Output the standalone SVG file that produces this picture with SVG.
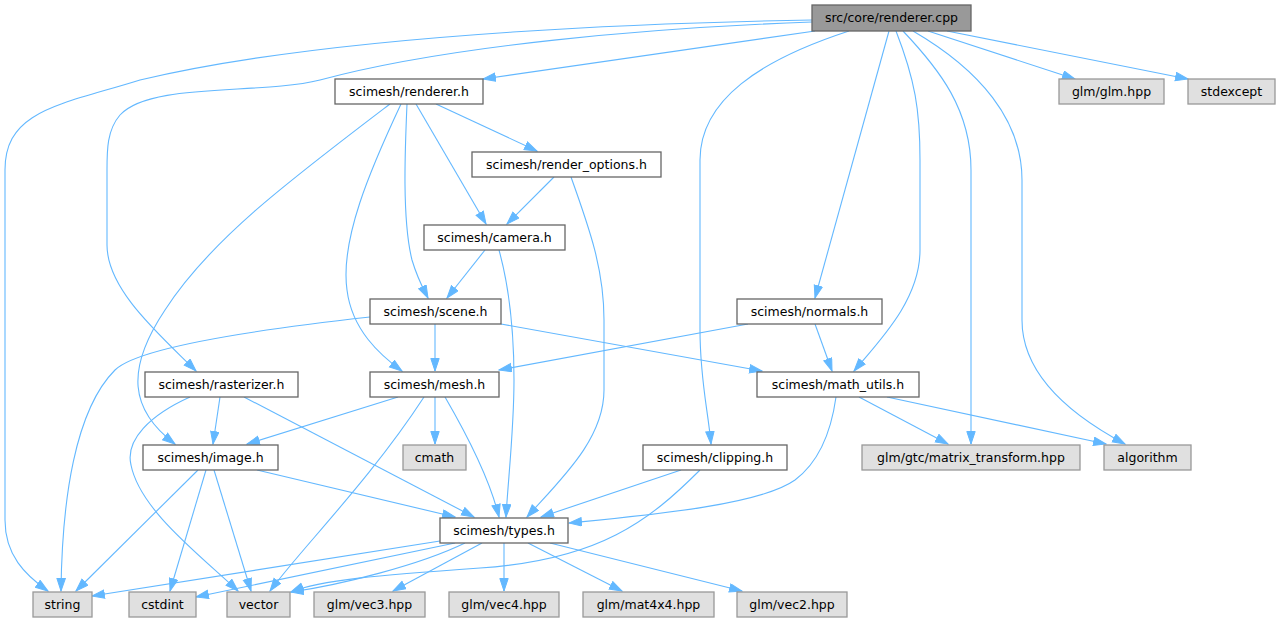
<svg xmlns="http://www.w3.org/2000/svg" width="1279" height="623" viewBox="0 0 1279 623">
<style>
.n rect{fill:#ffffff;stroke:#666666;stroke-width:1.3}
.x rect{fill:#e0e0e0;stroke:#999999;stroke-width:1.3}
.r rect{fill:#999999;stroke:#666666;stroke-width:1.3}
text{font-family:"DejaVu Sans","Liberation Sans",sans-serif;font-size:12.5px;fill:#000;text-anchor:middle}
#edges path{fill:none;stroke:#63b8ff;stroke-width:1.1;marker-end:url(#ah)}
</style>
<defs>
<marker id="ah" markerUnits="userSpaceOnUse" markerWidth="14" markerHeight="10" refX="13" refY="4.7" orient="auto">
<path d="M0.5,0.5 L13,4.7 L0.5,8.9 Z" fill="#63b8ff" stroke="#63b8ff" stroke-width="1"/>
</marker>
</defs>
<rect width="1279" height="623" fill="#ffffff"/>
<g id="edges">
<path d="M812,20 C 700,22 350,30 140,80 C 60,105 5,110 5,170 L5,520 C5,555 25,575 48,591"/>
<path d="M812,22 C 650,28 450,45 320,80 C 260,95 150,82 120,115 C 107,130 107,150 107,170 L107,245 C107,290 160,335 196,371"/>
<path d="M815,31 L483,79"/>
<path d="M849,31 C 760,60 700,100 700,160 L700,330 C 700,380 708,410 711,444"/>
<path d="M889,31 L815,298"/>
<path d="M896,31 C 915,80 920,110 920,160 L920,250 C 920,300 880,340 854,371"/>
<path d="M903,31 C 940,70 971,110 971,170 L971,444"/>
<path d="M913,31 C 980,70 1022,120 1022,180 L1022,320 C 1022,380 1080,420 1125,444"/>
<path d="M928,31 L1075,79"/>
<path d="M947,31 L1188,79"/>
<path d="M436,104 L537,151"/>
<path d="M416,104 L486,224"/>
<path d="M407,104 C 405,150 402,220 412,260 C 418,280 424,290 428,298"/>
<path d="M401,104 C 370,170 340,240 347,290 C 352,330 380,355 402,371"/>
<path d="M390,104 C 290,180 210,240 165,310 C 125,370 130,410 175,444"/>
<path d="M554,177 L507,224"/>
<path d="M571,177 C 590,230 604,270 604,320 L604,390 C 604,440 560,480 527,517"/>
<path d="M485,250 L447,298"/>
<path d="M499,250 C 510,290 514,330 514,380 C 514,430 508,480 506,517"/>
<path d="M435,324 L435,371"/>
<path d="M370,317 C 280,327 140,345 115,370 C 75,410 62,500 61,591"/>
<path d="M501,324 L762,371"/>
<path d="M748,324 L499,370"/>
<path d="M815,324 L832,371"/>
<path d="M220,397 L213,444"/>
<path d="M244,397 L474,517"/>
<path d="M190,397 C 150,415 125,440 131,465 C 140,510 200,555 238,591"/>
<path d="M398,397 L247,444"/>
<path d="M435,397 L435,444"/>
<path d="M424,397 C 370,480 300,550 270,591"/>
<path d="M445,397 C 470,440 490,480 499,517"/>
<path d="M198,470 L76,591"/>
<path d="M206,470 L170,591"/>
<path d="M214,470 L251,591"/>
<path d="M257,470 L455,517"/>
<path d="M440,541 L92,596"/>
<path d="M455,543 L196,597"/>
<path d="M465,543 C 420,565 340,585 291,592"/>
<path d="M700,470 C 650,520 600,560 480,568 C 380,575 320,580 291,592"/>
<path d="M482,543 L393,591"/>
<path d="M504,543 L504,591"/>
<path d="M528,543 L622,591"/>
<path d="M550,543 L742,591"/>
<path d="M681,470 L541,517"/>
<path d="M836,397 C 830,440 815,465 795,480 C 760,505 650,515 569,523"/>
<path d="M859,397 L948,444"/>
<path d="M887,397 L1106,444"/>
</g>
<g id="n_root" class="r"><rect x="812" y="5" width="159" height="26"/><text x="891.5" y="22">src/core/renderer.cpp</text></g>
<g id="n_renderer" class="n"><rect x="335" y="79" width="148" height="25"/><text x="409" y="96">scimesh/renderer.h</text></g>
<g id="n_glm" class="x"><rect x="1059" y="79" width="105" height="25"/><text x="1111.5" y="96">glm/glm.hpp</text></g>
<g id="n_stdexcept" class="x"><rect x="1188" y="79" width="87" height="25"/><text x="1231.5" y="96">stdexcept</text></g>
<g id="n_render_options" class="n"><rect x="472" y="152" width="189" height="25"/><text x="566.5" y="169">scimesh/render_options.h</text></g>
<g id="n_camera" class="n"><rect x="424" y="225" width="141" height="25"/><text x="494.5" y="242">scimesh/camera.h</text></g>
<g id="n_scene" class="n"><rect x="370" y="299" width="131" height="25"/><text x="435.5" y="316">scimesh/scene.h</text></g>
<g id="n_normals" class="n"><rect x="737" y="299" width="145" height="25"/><text x="809.5" y="316">scimesh/normals.h</text></g>
<g id="n_rasterizer" class="n"><rect x="145" y="372" width="153" height="25"/><text x="221.5" y="389">scimesh/rasterizer.h</text></g>
<g id="n_mesh" class="n"><rect x="370" y="372" width="129" height="25"/><text x="434.5" y="389">scimesh/mesh.h</text></g>
<g id="n_math_utils" class="n"><rect x="757" y="372" width="162" height="25"/><text x="838" y="389">scimesh/math_utils.h</text></g>
<g id="n_image" class="n"><rect x="143" y="445" width="135" height="25"/><text x="210.5" y="462">scimesh/image.h</text></g>
<g id="n_cmath" class="x"><rect x="403" y="445" width="63" height="25"/><text x="434.5" y="462">cmath</text></g>
<g id="n_clipping" class="n"><rect x="643" y="445" width="144" height="25"/><text x="715" y="462">scimesh/clipping.h</text></g>
<g id="n_matrix_transform" class="x"><rect x="862" y="445" width="218" height="25"/><text x="971" y="462">glm/gtc/matrix_transform.hpp</text></g>
<g id="n_algorithm" class="x"><rect x="1104" y="445" width="87" height="25"/><text x="1147.5" y="462">algorithm</text></g>
<g id="n_types" class="n"><rect x="440" y="518" width="128" height="25"/><text x="504" y="535">scimesh/types.h</text></g>
<g id="n_string" class="x"><rect x="33" y="592" width="59" height="25"/><text x="62.5" y="609">string</text></g>
<g id="n_cstdint" class="x"><rect x="129" y="592" width="67" height="25"/><text x="162.5" y="609">cstdint</text></g>
<g id="n_vector" class="x"><rect x="227" y="592" width="63" height="25"/><text x="258.5" y="609">vector</text></g>
<g id="n_vec3" class="x"><rect x="314" y="592" width="111" height="25"/><text x="369.5" y="609">glm/vec3.hpp</text></g>
<g id="n_vec4" class="x"><rect x="449" y="592" width="110" height="25"/><text x="504" y="609">glm/vec4.hpp</text></g>
<g id="n_mat4x4" class="x"><rect x="583" y="592" width="131" height="25"/><text x="648.5" y="609">glm/mat4x4.hpp</text></g>
<g id="n_vec2" class="x"><rect x="737" y="592" width="110" height="25"/><text x="792" y="609">glm/vec2.hpp</text></g>
</svg>
